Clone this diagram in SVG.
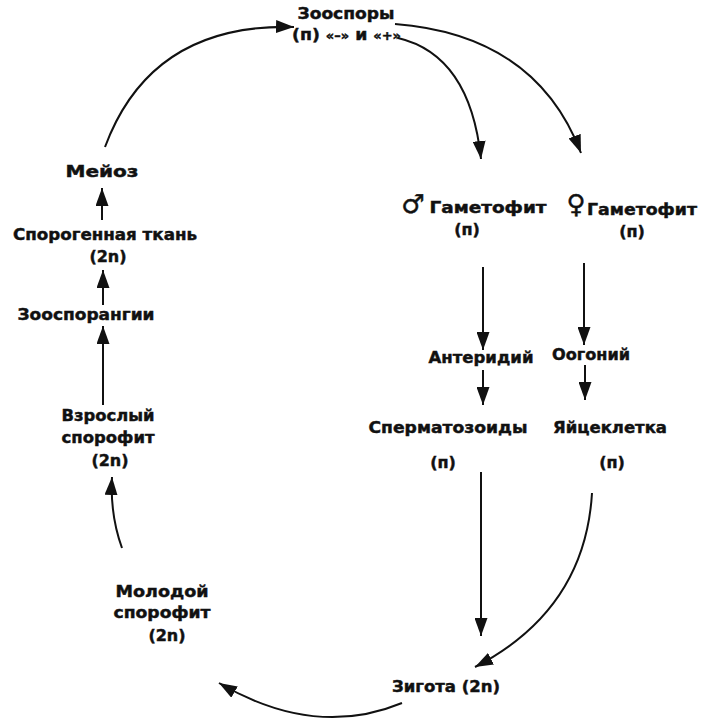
<svg xmlns="http://www.w3.org/2000/svg" width="702" height="719" viewBox="0 0 702 719">
<style>
text{font-family:"DejaVu Sans","Liberation Sans",sans-serif;font-weight:bold;font-size:16px;fill:#111;stroke:#111;stroke-width:0.45px;}
.c{text-anchor:middle;}
.sym{font-weight:bold;font-size:26px;}
.edge{fill:none;stroke:#111;stroke-width:2;marker-end:url(#ah);}
</style>
<defs>
<marker id="ah" viewBox="0 0 18 13" refX="18" refY="6.5" markerWidth="18" markerHeight="13" markerUnits="userSpaceOnUse" orient="auto">
<path d="M0,0 L18,6.5 L0,13 z" fill="#111"/>
</marker>
</defs>
<rect width="702" height="719" fill="#fff"/>
<g id="zoospory">
<text class="c" x="346" y="19" textLength="97" lengthAdjust="spacingAndGlyphs">Зооспоры</text>
<text x="292" y="40" textLength="109" lengthAdjust="spacingAndGlyphs"><tspan>(п) </tspan><tspan font-size="12">«–»</tspan><tspan> и </tspan><tspan font-size="12">«+»</tspan></text>
</g>
<g id="male-gametophyte">
<text class="c sym" x="413" y="213">♂</text>
<text class="c" x="488" y="213" textLength="117" lengthAdjust="spacingAndGlyphs">Гаметофит</text>
<text class="c" x="467" y="235">(п)</text>
</g>
<g id="female-gametophyte">
<text class="c sym" x="576" y="213">♀</text>
<text class="c" x="642" y="215" textLength="110" lengthAdjust="spacingAndGlyphs">Гаметофит</text>
<text class="c" x="632" y="237">(п)</text>
</g>
<g id="anteridium">
<text class="c" x="481" y="363" textLength="105" lengthAdjust="spacingAndGlyphs">Антеридий</text>
</g>
<g id="oogonium">
<text class="c" x="591" y="360" textLength="78" lengthAdjust="spacingAndGlyphs">Оогоний</text>
</g>
<g id="spermatozoids">
<text class="c" x="448" y="433" textLength="159" lengthAdjust="spacingAndGlyphs">Сперматозоиды</text>
<text class="c" x="443" y="468">(п)</text>
</g>
<g id="egg">
<text class="c" x="610" y="433" textLength="114" lengthAdjust="spacingAndGlyphs">Яйцеклетка</text>
<text class="c" x="612" y="468">(п)</text>
</g>
<g id="zygote">
<text class="c" x="446" y="692" textLength="108" lengthAdjust="spacingAndGlyphs">Зигота (2n)</text>
</g>
<g id="young-sporophyte">
<text class="c" x="162" y="597" textLength="93" lengthAdjust="spacingAndGlyphs">Молодой</text>
<text class="c" x="162" y="618" textLength="97" lengthAdjust="spacingAndGlyphs">спорофит</text>
<text class="c" x="167" y="641">(2n)</text>
</g>
<g id="adult-sporophyte">
<text class="c" x="108" y="421" textLength="93" lengthAdjust="spacingAndGlyphs">Взрослый</text>
<text class="c" x="108" y="443" textLength="93" lengthAdjust="spacingAndGlyphs">спорофит</text>
<text class="c" x="110" y="466">(2n)</text>
</g>
<g id="zoosporangia">
<text class="c" x="86" y="320" textLength="137" lengthAdjust="spacingAndGlyphs">Зооспорангии</text>
</g>
<g id="sporogenous-tissue">
<text class="c" x="105" y="240" textLength="184" lengthAdjust="spacingAndGlyphs">Спорогенная ткань</text>
<text class="c" x="108" y="262">(2n)</text>
</g>
<g id="meiosis">
<text class="c" x="102" y="177" textLength="73" lengthAdjust="spacingAndGlyphs">Мейоз</text>
</g>
<g id="connectors">
<path class="edge" d="M122,548 Q110,515 112,477"/>
<path class="edge" d="M103,405 L103,326"/>
<path class="edge" d="M103,305 L103,270"/>
<path class="edge" d="M102,220 L102,188"/>
<path class="edge" d="M105,147 Q151,23 294,27"/>
<path class="edge" d="M395,24 Q536,35 581,153"/>
<path class="edge" d="M398,38 Q470,55 481,159"/>
<path class="edge" d="M483,267 L483,350"/>
<path class="edge" d="M584,263 L584,345"/>
<path class="edge" d="M483,370 L483,405"/>
<path class="edge" d="M585,365 L585,400"/>
<path class="edge" d="M481,472 L481,636"/>
<path class="edge" d="M592,493 Q585,610 475,667"/>
<path class="edge" d="M402,703 Q315,739 219,683"/>
</g>
</svg>
